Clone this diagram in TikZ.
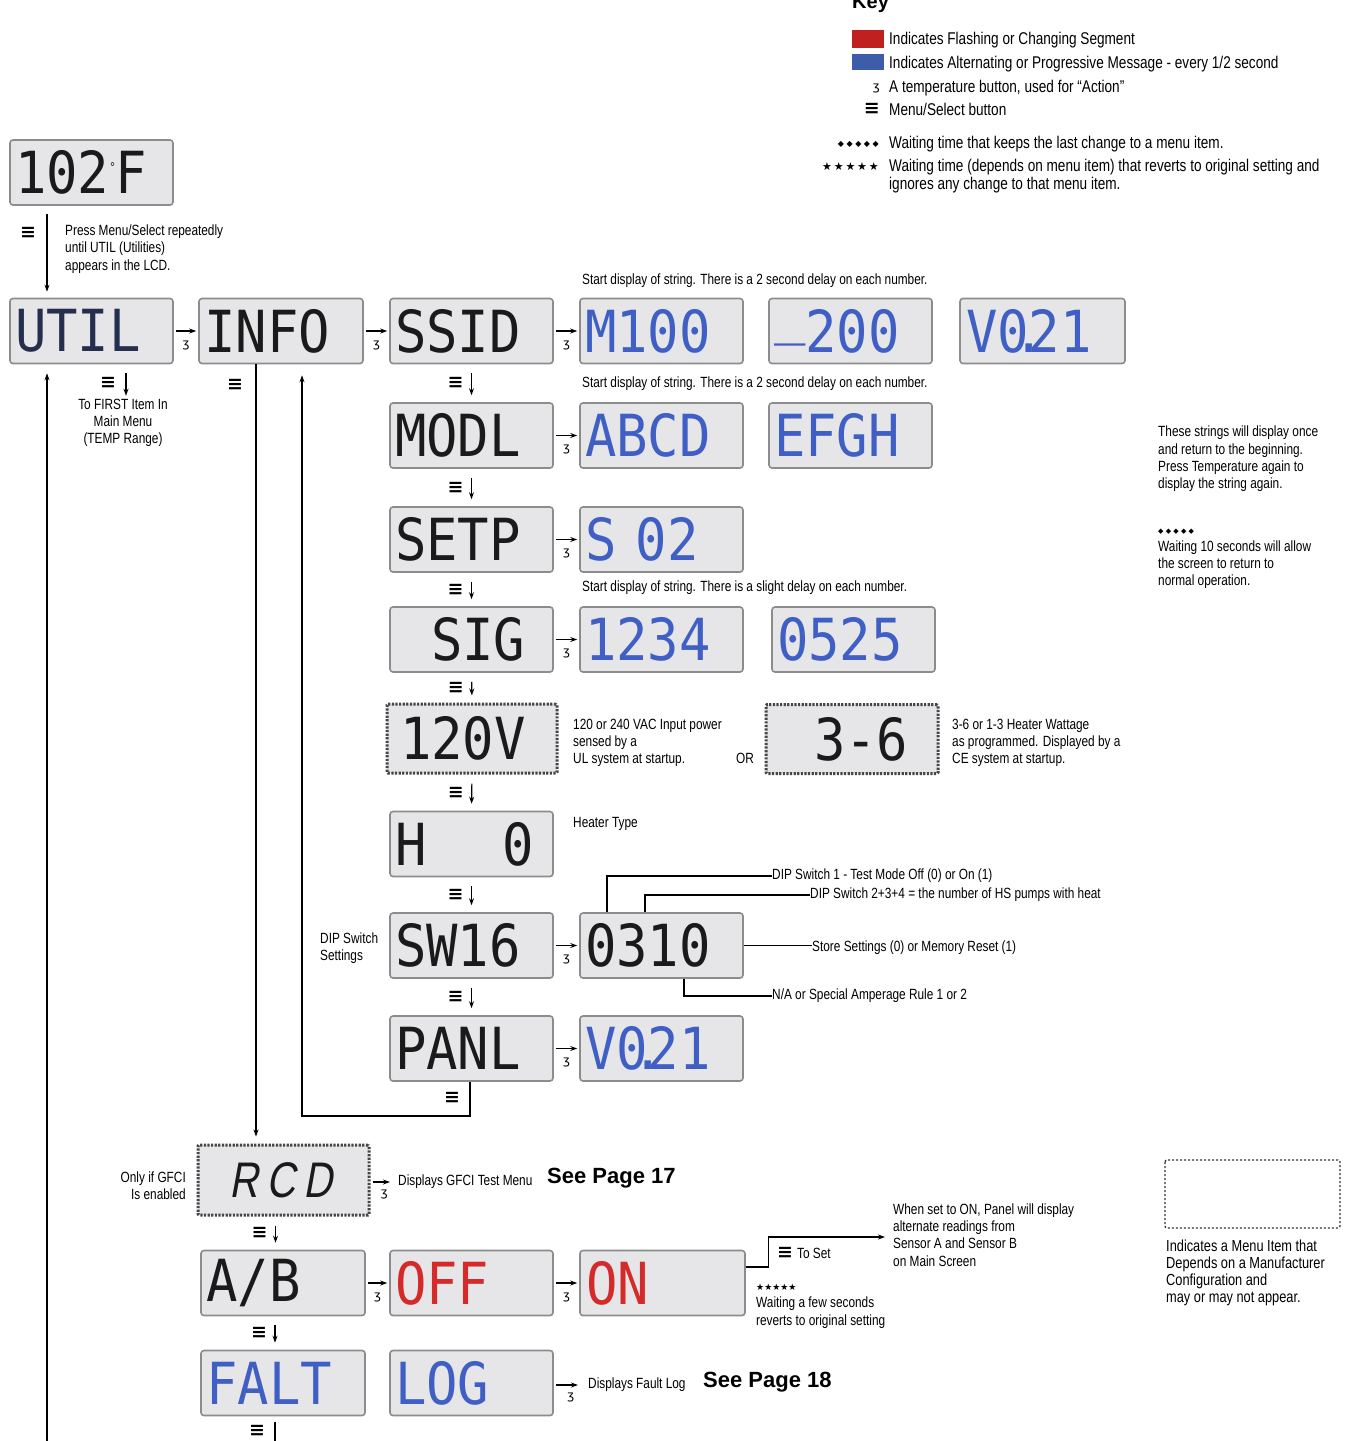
\documentclass[tikz,border=0pt]{standalone}
\usepackage{fontspec}
\setmainfont{Liberation Sans}
\newfontfamily\notefont[FakeStretch=0.8]{Liberation Sans}
\newfontfamily\lcdfont[FakeStretch=0.9]{DejaVu Sans Mono}
\newfontfamily\rcdfont[FakeStretch=0.8,FakeSlant=0.18]{Liberation Sans}
\newfontfamily\symfont{DejaVu Sans}
\usetikzlibrary{arrows.meta,calc}

\definecolor{lcdgray}{HTML}{E6E6E8}
\definecolor{lcdframe}{HTML}{8C8C8C}
\definecolor{segblue}{HTML}{3F5FC4}
\definecolor{segred}{HTML}{D42A2A}
\definecolor{segblack}{HTML}{1A1A1A}
\definecolor{keyred}{HTML}{C0201F}
\definecolor{keyblue}{HTML}{3E5DA9}

\newcommand{\menuicon}{{\symfont\bfseries\fontsize{19}{19}\selectfont ≡}}
\newcommand{\tempicon}{{\symfont\fontsize{12}{12}\selectfont ʒ}}
\newcommand{\segdot}{\makebox[0pt]{.}}

\begin{document}
\begin{tikzpicture}[x=1pt, y=-1pt,
  lcd/.style={draw=lcdframe, fill=lcdgray, line width=1.6pt, rounded corners=3pt,
    minimum width=163pt, minimum height=65pt, inner sep=0pt, text width=153pt,
    align=left, text=segblack, font=\lcdfont\fontsize{58}{58}\selectfont},
  lcddot/.style={lcd, draw=gray!55!black, line width=3pt,
    dash pattern=on 2.2pt off 1.4pt, rounded corners=1pt,
    minimum width=170pt, minimum height=69pt, text width=160pt},
  note/.style={font=\notefont\fontsize{14.8}{17.3}\selectfont, inner sep=0pt, align=left},
  keytext/.style={font=\notefont\fontsize{17}{18}\selectfont, inner sep=0pt, anchor=west, align=left},
  seeref/.style={font=\fontsize{22}{22}\selectfont\bfseries, inner sep=0pt, anchor=west},
  arr/.style={line width=1.2pt, -{Stealth[length=7pt,width=5pt]}},
  menuarr/.style={arr, shorten <=9pt, shorten >=7pt},
  temparr/.style={arr, shorten <=2pt, shorten >=2pt},
  callout/.style={line width=1.2pt}]

  \useasboundingbox (0,0) rectangle (1355,1441);

  % --- Spalten und Zeilen ---
  \def\colA{91.5}   % UTIL
  \def\colB{281}    % INFO
  \def\colC{471.5}  % SSID ... PANL
  \def\colD{661.5}  % erste Anzeige rechts
  \def\colE{850.5}  % zweite Anzeige rechts

  % --- Key ---
  \node (keyhead) at (852,8) [anchor=base west, inner sep=0pt, font=\fontsize{20}{20}\selectfont\bfseries] {Key};
  \fill[keyred]  (852,30) rectangle (884,48);
  \fill[keyblue] (852,54) rectangle (884,70);
  \node (keyflash) at (889,40)  [keytext] {Indicates Flashing or Changing Segment};
  \node (keyalt)   at (889,64)  [keytext] {Indicates Alternating or Progressive Message - every 1/2 second};
  \node (keytemp)  at (889,88)  [keytext] {A temperature button, used for “Action”};
  \node (keymenu)  at (889,109) [keytext] {Menu/Select button};
  \node (keykeep)  at (889,144) [keytext] {Waiting time that keeps the last change to a menu item.};
  \node (keyback)  at (889,176) [keytext] {Waiting time (depends on menu item) that reverts to original setting and\\ignores any change to that menu item.};
  \node (keytempicon) at (880,88)  [anchor=east, inner sep=0pt] {\tempicon};
  \node (keymenuicon) at (880,109) [anchor=east, inner sep=0pt] {\menuicon};
  \node (keydots)  at (879,144) [anchor=east, inner sep=0pt, font=\symfont\fontsize{8}{8}\selectfont] {◆ ◆ ◆ ◆ ◆};
  \node (keystars) at (879,167) [anchor=east, inner sep=0pt, font=\symfont\fontsize{11}{11}\selectfont] {★\,★\,★\,★\,★};

  % --- Startanzeige und UTIL-Zeile ---
  \node (temp) at (\colA,172.5) [lcd] {102\raisebox{22pt}{\fontsize{12}{12}\selectfont °}F};
  \node (util) at (\colA,331) [lcd, text=segblack!70!segblue] {UTIL};
  \node (info) at (\colB,331) [lcd, minimum width=164pt] {INFO};
  \node (ssid) at (\colC,331) [lcd] {SSID};
  \node (ssidA) at (\colD,331) [lcd, text=segblue] {M100};
  \node (ssidB) at (\colE,331) [lcd, text=segblue] {\smash{\raisebox{20pt}{\_}}200};
  \node (ssidC) at (1042.5,331) [lcd, minimum width=165pt, text=segblue] {V0\segdot21};

  % --- Spalte unter SSID ---
  \node (modl)  at (\colC,435.5) [lcd] {MODL};
  \node (modlA) at (\colD,435.5) [lcd, text=segblue] {ABCD};
  \node (modlB) at (\colE,435.5) [lcd, text=segblue] {EFGH};
  \node (setp)  at (\colC,539.5) [lcd] {SETP};
  \node (setpA) at (\colD,539.5) [lcd, text=segblue] {S 02};
  \node (sig)   at (\colC,639.5) [lcd] {\hspace*{36pt}SIG};
  \node (sigA)  at (\colD,639.5) [lcd, text=segblue] {1234};
  \node (sigB)  at (853.5,639.5) [lcd, text=segblue] {0525};
  \node (volt)  at (472,738.5) [lcddot] {\hspace*{8pt}120V};
  \node (watt)  at (852,739)   [lcddot, minimum width=172pt] {\hspace*{42pt}3-6};
  \node (heat)  at (\colC,844) [lcd] {H\hspace*{76pt}0};
  \node (sw)    at (\colC,945.5) [lcd] {SW16};
  \node (swA)   at (\colD,945.5) [lcd] {0310};
  \node (panl)  at (\colC,1048.5) [lcd] {PANL};
  \node (panlA) at (\colD,1048.5) [lcd, text=segblue] {V0\segdot21};

  % --- unterer Block ---
  \node (rcd)  at (283.5,1180) [lcddot, minimum width=171pt, minimum height=70pt,
                font=\rcdfont\fontsize{50}{50}\selectfont] {\hspace*{26pt}R\,C\,D};
  \node (ab)   at (283,1283) [lcd, minimum width=164pt] {A/B};
  \node (off)  at (\colC,1283) [lcd, text=segred] {OFF};
  \node (on)   at (662.5,1283) [lcd, minimum width=165pt, text=segred] {ON};
  \node (falt) at (283,1383) [lcd, minimum width=164pt, text=segblue] {FALT};
  \node (log)  at (\colC,1383) [lcd, text=segblue] {LOG};

  % --- Texte ---
  \node (press) at (65,249) [note, anchor=west] {Press Menu/Select repeatedly\\until UTIL (Utilities)\\appears in the LCD.};
  \node (first) at (123,423) [note, align=center] {To FIRST Item In\\Main Menu\\(TEMP Range)};
  \node (delayA) at (582,281) [note, anchor=west] {Start display of string. There is a 2 second delay on each number.};
  \node (delayB) at (582,384) [note, anchor=west] {Start display of string. There is a 2 second delay on each number.};
  \node (delayC) at (582,588) [note, anchor=west] {Start display of string. There is a slight delay on each number.};
  \node (once)   at (1158,459) [note, anchor=west] {These strings will display once\\and return to the beginning.\\Press Temperature again to\\display the string again.};
  \node (tenSec) at (1158,559) [note, anchor=west] {{\symfont\fontsize{7}{7}\selectfont ◆ ◆ ◆ ◆ ◆}\\Waiting 10 seconds will allow\\the screen to return to\\normal operation.};
  \node (voltNote) at (573,743) [note, anchor=west] {120 or 240 VAC Input power\\sensed by a\\UL system at startup.};
  \node (orNote)   at (736,758) [note, anchor=west] {OR};
  \node (wattNote) at (952,743) [note, anchor=west] {3-6 or 1-3 Heater Wattage\\as programmed. Displayed by a\\CE system at startup.};
  \node (heatNote) at (573,824) [note, anchor=west] {Heater Type};
  \node (dipNote)  at (320,948) [note, anchor=west] {DIP Switch\\Settings};
  \node (dipOne)   at (772,876) [note, anchor=west] {DIP Switch 1 - Test Mode Off (0) or On (1)};
  \node (dipTwo)   at (810,895) [note, anchor=west] {DIP Switch 2+3+4 = the number of HS pumps with heat};
  \node (dipStore) at (812,948) [note, anchor=west] {Store Settings (0) or Memory Reset (1)};
  \node (dipAmp)   at (772,996) [note, anchor=west] {N/A or Special Amperage Rule 1 or 2};
  \node (gfciNote) at (186,1186) [note, anchor=east, align=right] {Only if GFCI\\Is enabled};
  \node (gfci)     at (398,1182) [note, anchor=west] {Displays GFCI Test Menu};
  \node (page17)   at (547,1178) [seeref] {See Page 17};
  \node (sensor)   at (893,1235) [note, anchor=west] {When set to ON, Panel will display\\alternate readings from\\Sensor A and Sensor B\\on Main Screen};
  \node (toSet)    at (797,1253) [note, anchor=west] {To Set};
  \node (revert)   at (756,1306) [note, anchor=west] {{\symfont\fontsize{9}{9}\selectfont ★★★★★}\\Waiting a few seconds\\reverts to original setting};
  \node (faultLog) at (588,1385) [note, anchor=west] {Displays Fault Log};
  \node (page18)   at (703,1382) [seeref] {See Page 18};
  \node (optNote)  at (1166,1273) [keytext, font=\notefont\fontsize{16}{17}\selectfont] {Indicates a Menu Item that\\Depends on a Manufacturer\\Configuration and\\may or may not appear.};
  \draw[gray!40!black, line width=1.3pt, dash pattern=on 2pt off 2pt, rounded corners=2pt] (1165,1160) rectangle (1340,1228);

  % --- Menu-Symbole ohne Pfeil daneben ---
  \node (m0) at (28,233)   {\menuicon};
  \node (m1) at (108,383)  {\menuicon};
  \node (m2) at (235,385)  {\menuicon};
  \node (m3) at (452,1098) {\menuicon};
  \node (m4) at (785,1253) {\menuicon};
  \node (m5) at (257,1431) {\menuicon};

  % --- Verbindungen Menu/Select (senkrecht) ---
  \foreach \a/\b in {ssid/modl, modl/setp, setp/sig, sig/volt, volt/heat, heat/sw, sw/panl}
    \draw[menuarr] (\a.south) -- (\b.north) node[midway, left=4pt] {\menuicon};
  \foreach \a/\b in {rcd/ab, ab/falt}
    \draw[menuarr] ([xshift=-8pt]\a.south) -- ([xshift=-8pt]\a.south |- \b.north) node[midway, left=4pt] {\menuicon};

  \draw[arr, shorten <=8pt, shorten >=6pt] ([xshift=-44.5pt]temp.south) -- ([xshift=-44.5pt]util.north);
  \draw[arr, shorten <=9pt, shorten >=3pt] ([xshift=34.5pt]util.south) -- ([xshift=34.5pt]util.south |- first.north);
  \draw[arr, shorten >=7pt] ([xshift=-25pt]info.south) -- ([xshift=-25pt]info.south |- rcd.north);

  \coordinate (back) at (302,1116);
  \draw[arr, shorten >=11pt] ([xshift=-1.5pt]panl.south) |- (back) -- ([xshift=21pt]info.south);

  \coordinate (loopIn) at (47,1441);
  \draw[arr, shorten >=9pt] (loopIn) -- (loopIn |- util.south);

  \coordinate (faltOut) at (275,1441);
  \draw[line width=1.2pt, shorten <=6pt] ([xshift=-8pt]falt.south) -- (faltOut);

  % --- Verbindungen Temperatur (waagrecht) ---
  \foreach \a/\b in {util/info, info/ssid, ssid/ssidA, modl/modlA, setp/setpA, sig/sigA,
                     sw/swA, panl/panlA, ab/off, off/on}
    \draw[temparr] (\a.east) -- (\a.east -| \b.west) node[midway, anchor=north, yshift=-9pt, inner sep=0pt] {\tempicon};
  \draw[arr, shorten <=2pt, shorten >=8pt] (rcd.east |- gfci) -- (gfci.west) node[midway, anchor=north, yshift=-7pt, inner sep=0pt] {\tempicon};
  \draw[arr, shorten <=2pt, shorten >=10pt] (log.east |- faultLog) -- (faultLog.west) node[midway, anchor=north, yshift=-7pt, inner sep=0pt] {\tempicon};

  % --- DIP-Schalter Hinweise ---
  \draw[callout] ([xshift=-54.5pt]swA.north) |- (dipOne.west);
  \draw[callout] ([xshift=-16.5pt]swA.north) |- (dipTwo.west);
  \draw[callout] (swA.east) -- (swA.east -| dipStore.west);
  \draw[callout] ([xshift=22.5pt]swA.south) |- (dipAmp.west);

  % --- ON: Sensor A/B ---
  \coordinate (sensorTip) at (885,1237);
  \draw[arr] ([yshift=16pt]on.east) -- ++(23,0) |- (sensorTip);

\end{tikzpicture}
\end{document}
